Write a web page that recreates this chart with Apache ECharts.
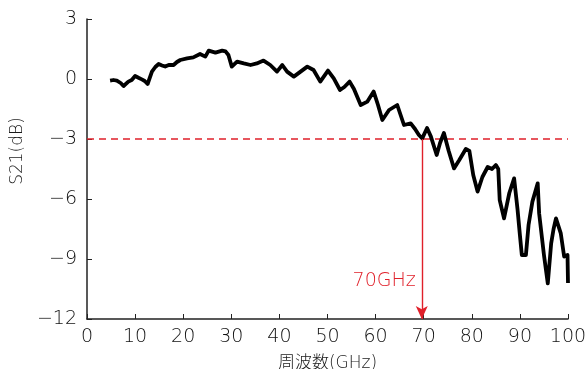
<!DOCTYPE html>
<html>
<head>
<meta charset="utf-8">
<script src="https://cdn.jsdelivr.net/npm/echarts@6/dist/echarts.min.js"></script>
<style>
html, body { margin: 0; padding: 0; background: #fff; }
#chart { width: 588px; height: 369px; }
</style>
</head>
<body>
<div id="chart"></div>
<script>
// 周波数 (GHz) と S21 (dB) 読み取り値
var freqGHz = [4.8, 5.5, 6.2, 7.0, 7.6, 8.6, 9.3, 10, 10.8, 11.4, 12.0, 12.6, 13.5, 14.2, 14.9, 15.6, 16.25, 17.0, 18, 18.7,
  19.4, 20.8, 22.1, 23.5, 24.6, 25.3, 26.7, 28.1, 28.8, 29.4, 30.1, 31.2, 32.6, 34, 35.3, 36.7, 38.1, 39.5, 40.6, 41.6,
  43, 44.4, 45.8, 47.1, 48.5, 50.1, 51.3, 52.6, 53.5, 54.6, 55.5, 56.9, 58.3, 59.6, 60.5, 61.4, 62.8, 64.5, 65.9, 67.3,
  68.2, 69, 69.7, 70.7, 71.5, 72.7, 73.4, 74.2, 75.2, 76.3, 77.4, 78.75, 79.5, 80.3, 81.2, 82.2, 83.3, 84.2, 85, 85.5,
  85.8, 86.7, 87.8, 88.8, 89.5, 90.0, 90.4, 91.25, 91.8, 92.6, 93.7, 94.0, 95.0, 95.8, 96.5, 97.0, 97.5, 98.5, 99.2, 99.9, 100];
var s21dB = [-0.08, -0.05, -0.08, -0.2, -0.35, -0.13, -0.05, 0.15, 0.05, -0.02, -0.1, -0.25, 0.37, 0.6, 0.75, 0.68, 0.62, 0.7, 0.7, 0.85,
  0.95, 1.03, 1.08, 1.25, 1.12, 1.42, 1.32, 1.42, 1.38, 1.2, 0.62, 0.87, 0.78, 0.7, 0.78, 0.92, 0.7, 0.37, 0.7, 0.37,
  0.12, 0.37, 0.62, 0.45, -0.13, 0.42, 0.03, -0.55, -0.4, -0.13, -0.5, -1.3, -1.13, -0.63, -1.3, -2.05, -1.55, -1.3, -2.3, -2.22,
  -2.5, -2.8, -2.97, -2.45, -2.88, -3.8, -3.2, -2.7, -3.6, -4.47, -4.05, -3.5, -3.6, -4.8, -5.63, -4.9, -4.4, -4.5, -4.3, -4.5,
  -6.05, -6.97, -5.7, -4.97, -6.5, -7.8, -8.8, -8.8, -7.3, -6.13, -5.22, -6.72, -8.8, -10.22, -8.22, -7.5, -6.97, -7.72, -8.88, -8.8, -10.2];

var xTicks = [0, 10, 20, 30, 40, 50, 60, 70, 80, 90, 100];
var yTicks = [-12, -9, -6, -3, 0, 3];
var thresholdDB = -3;
var cutoffGHz = 69.6;
var cutoffLabel = '70GHz';
var cutoffLabelDB = -10.1;

var red = '#e0202a';
var font = '"DejaVu Sans", "Noto Sans CJK JP", sans-serif';

var chart = echarts.init(document.getElementById('chart'));

var lineData = freqGHz.map(function (f, i) { return [f, s21dB[i]]; });
var xMin = xTicks[0], xMax = xTicks[xTicks.length - 1];

chart.setOption({
  animation: false,
  backgroundColor: '#fff',
  grid: { left: 87, right: 20, top: 19, bottom: 50, containLabel: false, outerBoundsMode: 'none' },
  xAxis: {
    type: 'value',
    min: xMin,
    max: xMax,
    interval: 10,
    name: '周波数(GHz)',
    nameLocation: 'middle',
    nameGap: 36,
    nameTextStyle: { fontFamily: font, fontSize: 17, color: '#1a1a1a', fontWeight: 200 },
    axisLine: { onZero: false, lineStyle: { color: '#222', width: 1.5 } },
    axisTick: { inside: true, length: 5, lineStyle: { color: '#222' } },
    axisLabel: { fontFamily: font, fontSize: 19, color: '#111', margin: 9, fontWeight: 200 },
    splitLine: { show: false }
  },
  yAxis: {
    type: 'value',
    min: yTicks[0],
    max: yTicks[yTicks.length - 1],
    interval: 3,
    name: 'S21(dB)',
    nameLocation: 'middle',
    nameGap: 55,
    nameTextStyle: { fontFamily: font, fontSize: 17, color: '#1a1a1a', fontWeight: 200, padding: [0, 0, 0, 36] },
    axisLine: { show: true, onZero: false, lineStyle: { color: '#222', width: 1.5 } },
    axisTick: { show: true, inside: true, length: 5, lineStyle: { color: '#222' } },
    axisLabel: {
      fontFamily: font, fontSize: 19, color: '#111', margin: 10, fontWeight: 200,
      formatter: function (v) { return v < 0 ? '\u2212' + Math.abs(v) : String(v); }
    },
    splitLine: { show: false }
  },
  series: [
    {
      type: 'line',
      data: lineData,
      showSymbol: false,
      lineStyle: { color: '#000', width: 3.8, join: 'round' },
      z: 3
    },
    {
      // -3dB 基準線
      type: 'line',
      data: [[xMin, thresholdDB], [xMax, thresholdDB]],
      showSymbol: false,
      silent: true,
      lineStyle: { color: red, type: [7, 5], width: 1.5 },
      z: 2
    },
    {
      type: 'line',
      data: [],
      itemStyle: { color: red },
      markLine: {
        silent: true,
        animation: false,
        label: { show: false },
        symbol: ['none', 'arrow'],
        symbolSize: [9, 13],
        data: [
          [
            { coord: [cutoffGHz, thresholdDB] },
            { coord: [cutoffGHz, yTicks[0]] }
          ]
        ],
        lineStyle: { color: red, type: 'solid', width: 1.4 }
      },
      markPoint: {
        silent: true,
        symbolSize: 0,
        data: [{ coord: [cutoffGHz, cutoffLabelDB] }],
        label: {
          show: true,
          position: 'left',
          distance: 6,
          formatter: cutoffLabel,
          color: red,
          fontFamily: font,
          fontSize: 19,
          fontWeight: 200
        }
      },
      z: 4
    }
  ]
});
</script>
</body>
</html>
